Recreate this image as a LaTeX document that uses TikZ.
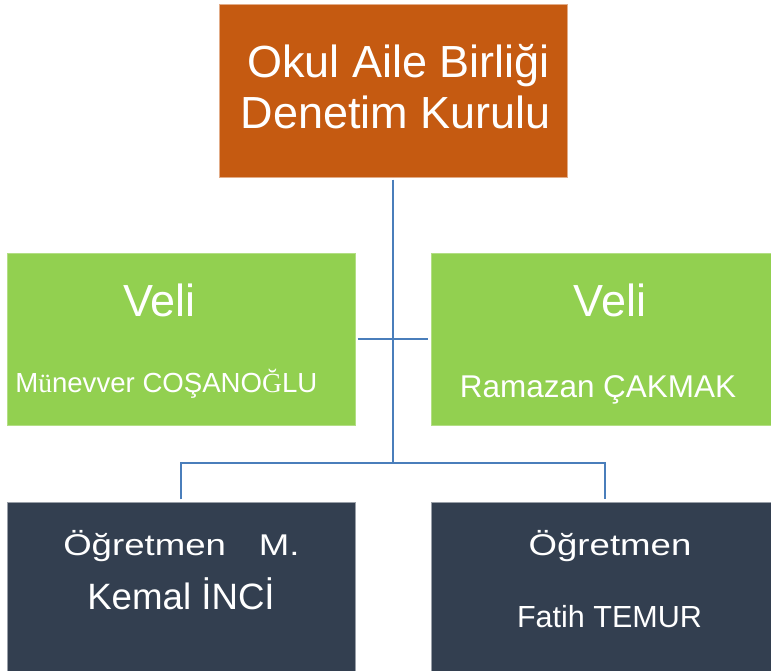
\documentclass[tikz,border=0pt]{standalone}
\usepackage{fontspec}
\setmainfont{Liberation Sans}
\newfontfamily\serifglyph{Liberation Serif}
\newfontfamily\widefont[FakeStretch=1.22]{Liberation Sans}

\definecolor{chairfill}{RGB}{197,90,17}
\definecolor{parentfill}{RGB}{146,208,80}
\definecolor{teacherfill}{RGB}{51,63,80}
\definecolor{linkblue}{RGB}{74,126,187}

\tikzset{
    box/.style = {
        rectangle,
        inner sep=0pt,
        outer sep=0pt,
        line width=0.6pt
    },
    chair/.style = {
        box,
        fill=chairfill,
        draw=chairfill!50!white,
        minimum width=261pt,
        minimum height=129.75pt
    },
    parent/.style = {
        box,
        fill=parentfill,
        draw=parentfill!70!white,
        minimum width=#1,
        minimum height=129pt
    },
    teacher/.style = {
        box,
        fill=teacherfill,
        draw=teacherfill!50!white,
        minimum width=#1,
        minimum height=126.75pt
    },
    link/.style = {
        linkblue,
        line width=1.5pt
    },
    txt/.style = {
        white,
        inner sep=0pt,
        anchor=base,
        font=\fontsize{#1}{#1}\selectfont
    },
    widetxt/.style = {
        white,
        inner sep=0pt,
        anchor=base,
        font=\widefont\fontsize{#1}{#1}\selectfont
    }
}

\begin{document}
\begin{tikzpicture}[x=0.75pt,y=-0.75pt]
    \useasboundingbox (0,0) rectangle (771,671);

    % Draw boxes
    \node[chair] (chair) at (393,90.5) {};
    \node[parent=261pt] (veli1) at (181,339) {};
    \node[parent=255pt] (veli2) at (601,339) {};
    \node[teacher=261pt] (ogr1) at (181,586.5) {};
    \node[teacher=255pt] (ogr2) at (601,586.5) {};

    % Draw connectors
    \coordinate (bus) at (393,463);
    \draw[link] ([yshift=-2pt]chair.south) -- (bus);
    \draw[link, shorten <=2pt, shorten >=2pt] (veli1.east) -- (veli2.west);
    \draw[link] ([yshift=2pt]ogr1.north) |- (bus) -| ([xshift=3pt,yshift=2pt]ogr2.north);

    % Draw labels
    \node[txt=33.75pt] (title1) at (398.5,77) {Okul Aile Birliği};
    \node[txt=33.75pt] (title2) at (396,128) {Denetim Kurulu};
    \node[txt=33.75pt] (veliA) at (159.5,316) {Veli};
    \node[txt=33.75pt] (veliB) at (610,316) {Veli};
    \node[txt=20.7pt, anchor=base west] (nameA) at (15,392)
        {M{\serifglyph ü}nevver COŞANO{\serifglyph Ğ}LU};
    \node[txt=23.6pt] (nameB) at (598,397) {Ramazan ÇAKMAK};
    \node[widetxt=22.5pt, anchor=base west] (ogrA1) at (63,555)
        {Öğretmen\hspace{24.75pt}M.};
    \node[txt=27.5pt] (ogrA2) at (181,609) {Kemal İNCİ};
    \node[widetxt=22.5pt] (ogrB1) at (610,555) {Öğretmen};
    \node[txt=22.9pt] (ogrB2) at (609.5,627) {Fatih TEMUR};
\end{tikzpicture}
\end{document}
